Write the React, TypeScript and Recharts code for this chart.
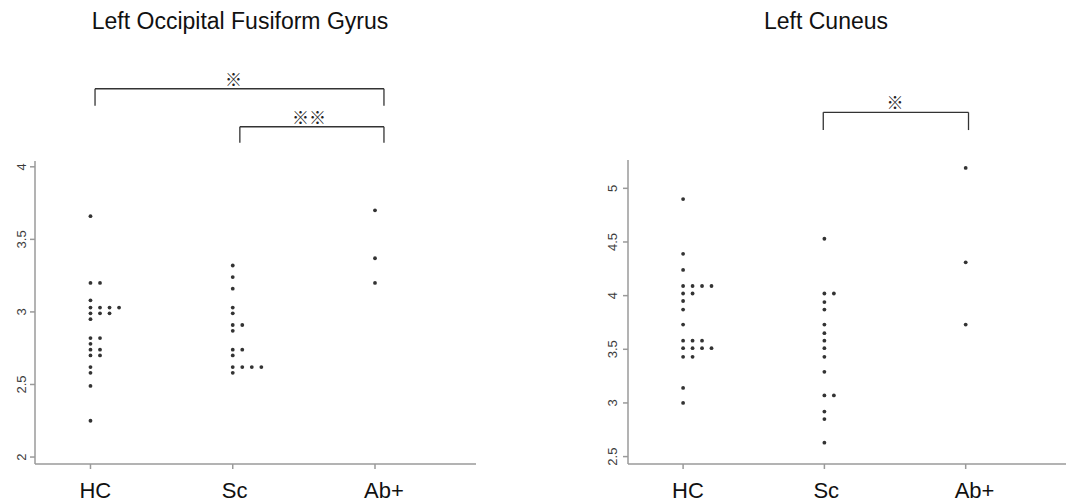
import { ScatterChart, Scatter, XAxis, YAxis, ReferenceLine } from 'recharts';

const groups = ['HC', 'Sc', 'Ab+'];

// Left Occipital Fusiform Gyrus
const fusiformHC = [3.66, 3.2, 3.2, 3.08, 3.03, 3.03, 3.03, 3.03, 2.99, 2.99, 2.99, 2.95, 2.82, 2.82, 2.78, 2.74, 2.74, 2.7, 2.7, 2.62, 2.58, 2.49, 2.25];
const fusiformSc = [3.32, 3.24, 3.16, 3.03, 2.99, 2.91, 2.91, 2.87, 2.74, 2.74, 2.7, 2.62, 2.62, 2.62, 2.62, 2.58];
const fusiformAb = [3.7, 3.37, 3.2];
const fusiformTicks = [2, 2.5, 3, 3.5, 4];

// Left Cuneus
const cuneusHC = [4.9, 4.39, 4.24, 4.09, 4.09, 4.09, 4.09, 4.02, 4.02, 3.95, 3.87, 3.73, 3.58, 3.58, 3.58, 3.51, 3.51, 3.51, 3.51, 3.43, 3.43, 3.14, 3.0];
const cuneusSc = [4.53, 4.02, 4.02, 3.94, 3.87, 3.73, 3.65, 3.58, 3.51, 3.43, 3.29, 3.07, 3.07, 2.92, 2.85, 2.63];
const cuneusAb = [5.19, 4.31, 3.73];
const cuneusTicks = [2.5, 3, 3.5, 4, 4.5, 5];

// significance brackets (x in group units, y in value units)
const fusiformSig = [
  { from: 1.032, to: 3.063, top: 4.538, leg: 4.421, mark: '※', dx: -6 },
  { from: 2.05, to: 3.063, top: 4.276, leg: 4.166, mark: '※※', dx: -3 },
];
const cuneusSig = [{ from: 1.992, to: 3.02, top: 5.708, leg: 5.543, mark: '※', dx: -1 }];

const stackStep = 0.067;
const xDomain = [0.61, 3.71];

// stripchart(method = "stack") style: repeated values are pushed to the right
const toPoints = (cols: number[][]) =>
  cols.flatMap((vals, gi) => {
    const seen: Record<string, number> = {};
    return vals.map((v) => {
      const k = seen[v] || 0;
      seen[v] = k + 1;
      return { x: gi + 1 + k * stackStep, y: v };
    });
  });

const axisGrey = '#9a9a9a';
const font = '"Liberation Sans", Arial, sans-serif';

const Dot = (props) => <circle cx={props.cx} cy={props.cy} r={1.9} fill="#333" />;

const YTick = ({ x, y, payload, shift }) => (
  <text
    transform={`translate(${x + shift},${y}) rotate(-90)`}
    textAnchor="middle"
    fontSize={13}
    fill="#3a3a3a"
    fontFamily={font}
  >
    {payload.value}
  </text>
);

const XTick = ({ x, y, payload }) => (
  <text x={x - 11} y={y + 27} fontSize={22} fill="#111" fontFamily={font}>
    {groups[payload.value - 1]}
  </text>
);

const MarkLabel = ({ viewBox, value, dx }) => (
  <text
    x={viewBox.x + viewBox.width / 2 + dx}
    y={viewBox.y - 3}
    textAnchor="middle"
    fontSize={17}
    fill="#222"
    fontFamily='"Noto Sans CJK JP", "DejaVu Sans"'
  >
    {value}
  </text>
);

const brackets = (sig) =>
  sig.flatMap((s, i) => [
    <ReferenceLine
      key={`h${i}`}
      segment={[{ x: s.from, y: s.top }, { x: s.to, y: s.top }]}
      ifOverflow="visible"
      stroke="#333"
      strokeWidth={1.3}
      label={<MarkLabel value={s.mark} dx={s.dx} />}
    />,
    <ReferenceLine
      key={`l${i}`}
      segment={[{ x: s.from, y: s.leg }, { x: s.from, y: s.top }]}
      ifOverflow="visible"
      stroke="#333"
      strokeWidth={1.3}
    />,
    <ReferenceLine
      key={`r${i}`}
      segment={[{ x: s.to, y: s.leg }, { x: s.to, y: s.top }]}
      ifOverflow="visible"
      stroke="#333"
      strokeWidth={1.3}
    />,
  ]);

const Panel = ({ title, titleX, width, yWidth, right, top, domain, ticks, points, sig, tickShift }) => (
  <ScatterChart width={width} height={502} margin={{ top, right, bottom: 8, left: 0 }}>
    <text x={titleX} y={29} textAnchor="middle" fontSize={23} fill="#111" fontFamily={font}>
      {title}
    </text>
    <XAxis
      type="number"
      dataKey="x"
      domain={xDomain}
      ticks={[1, 2, 3]}
      height={30}
      stroke={axisGrey}
      strokeWidth={1.5}
      tickSize={5}
      tick={<XTick />}
      allowDataOverflow
    />
    <YAxis
      type="number"
      dataKey="y"
      domain={domain}
      ticks={ticks}
      width={yWidth}
      stroke={axisGrey}
      strokeWidth={1.5}
      tickSize={5}
      tick={<YTick shift={tickShift} />}
      allowDataOverflow
    />
    <Scatter data={points} shape={<Dot />} isAnimationActive={false} />
    {brackets(sig)}
  </ScatterChart>
);

export default function App() {
  return (
    <div style={{ position: 'absolute', left: 0, top: 0, width: 1071, height: 502, background: '#fff' }}>
      <div style={{ position: 'absolute', left: 0, top: 0 }}>
        <Panel
          title="Left Occipital Fusiform Gyrus"
          titleX={240}
          width={540}
          yWidth={35}
          right={64}
          top={161}
          domain={[1.952, 4.04]}
          ticks={fusiformTicks}
          points={toPoints([fusiformHC, fusiformSc, fusiformAb])}
          sig={fusiformSig}
          tickShift={-2}
        />
      </div>
      <div style={{ position: 'absolute', left: 540, top: 0 }}>
        <Panel
          title="Left Cuneus"
          titleX={286}
          width={531}
          yWidth={88}
          right={5}
          top={160}
          domain={[2.431, 5.264]}
          ticks={cuneusTicks}
          points={toPoints([cuneusHC, cuneusSc, cuneusAb])}
          sig={cuneusSig}
          tickShift={-4}
        />
      </div>
    </div>
  );
}
